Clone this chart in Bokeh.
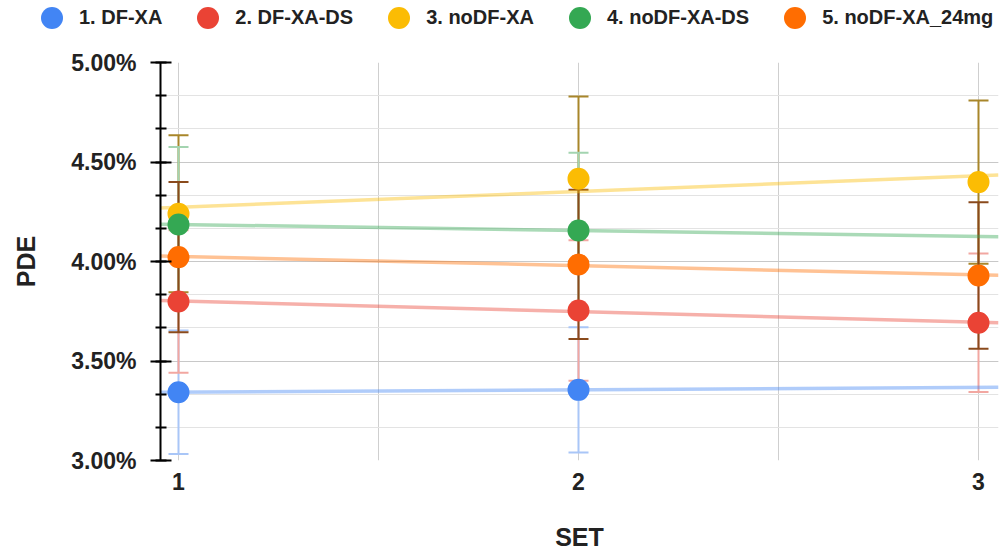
import numpy as np
from bokeh.plotting import figure
from bokeh.layouts import column
from bokeh.models import (ColumnDataSource, FixedTicker, PrintfTickFormatter, Whisker,
                          TeeHead, Legend, LegendItem, Range1d)
from bokeh.embed import file_html
from bokeh.resources import INLINE

# ---- data ----
sets = [1, 2, 3]
names = ["1. DF-XA", "2. DF-XA-DS", "3. noDF-XA", "4. noDF-XA-DS", "5. noDF-XA_24mg"]
pde_1 = [3.343, 3.355, None]
pde_2 = [3.799, 3.754, 3.692]
pde_3 = [4.240, 4.416, 4.399]
pde_4 = [4.186, 4.156, None]
pde_5 = [4.022, 3.985, 3.930]
err_1 = [0.310, 0.315, None]
err_2 = [0.358, 0.353, 0.348]
err_3 = [0.395, 0.413, 0.410]
err_4 = [0.389, 0.390, None]
err_5 = [0.377, 0.375, 0.368]
y_ticks = [3.0, 3.5, 4.0, 4.5, 5.0]
x_ticks = [1, 2, 3]

series_vals = [pde_1, pde_2, pde_3, pde_4, pde_5]
series_errs = [err_1, err_2, err_3, err_4, err_5]

# ---- styles ----
colors = ["#4285F4", "#EA4335", "#FBBC04", "#34A853", "#FF6D01"]
err_colors = ["#a9c6f7", "#f2a7a1", "#a8862a", "#a3d4b0", "#8a4a1c"]
FONT = "Liberation Sans"
X0, X1 = 0.955, 3.05
W = 1003
LEG_H = 40


def present(vals, other=None):
    xs = [x for x, v in zip(sets, vals) if v is not None]
    ys = [v for v in vals if v is not None]
    if other is None:
        return xs, ys
    return xs, ys, [e for e in other if e is not None]


# ---- legend strip (its series copies sit outside its visible range) ----
leg = figure(width=W, height=LEG_H, output_backend="svg", toolbar_location=None,
             x_range=Range1d(10, 11), y_range=Range1d(10, 11),
             x_axis_type=None, y_axis_type=None,
             min_border_left=0, min_border_right=0, min_border_top=0, min_border_bottom=0)
leg.outline_line_color = None
leg.xgrid.visible = False
leg.ygrid.visible = False
leg.frame_align = False
items = []
for vals, c, n in zip(series_vals, colors, names):
    xs, ys = present(vals)
    r = leg.scatter(xs, ys, size=22, fill_color=c, line_color=c, line_width=0)
    items.append(LegendItem(label=n, renderers=[r]))
legend = Legend(items=items, orientation="horizontal", location=(24, -5),
                glyph_width=55, glyph_height=55, label_standoff=-2, spacing=18,
                padding=0, margin=0, border_line_color=None, background_fill_alpha=0,
                label_text_font=FONT, label_text_font_style="bold",
                label_text_font_size="20px", label_text_color="#222222")
leg.add_layout(legend, "center")

# ---- main chart ----
p = figure(width=W, height=555 - LEG_H, output_backend="svg", toolbar_location=None,
           x_range=Range1d(X0, X1), y_range=Range1d(3.0, 5.0),
           min_border_left=160, min_border_right=5, min_border_top=62 - LEG_H,
           min_border_bottom=95)
p.outline_line_color = None
p.background_fill_color = "white"
p.frame_align = False

# trendlines (least-squares fit of each series)
for vals, c in zip(series_vals, colors):
    xs, ys = present(vals)
    m, b = np.polyfit(xs, ys, 1)
    p.line([X0, X1], [m * X0 + b, m * X1 + b], line_color=c, line_width=3.5, line_alpha=0.42)

# error bars
for vals, errs, ec in zip(series_vals, series_errs, err_colors):
    xs, ys, es = present(vals, errs)
    src = ColumnDataSource(dict(x=xs, upper=[y + e for y, e in zip(ys, es)],
                                lower=[y - e for y, e in zip(ys, es)]))
    w = Whisker(base="x", upper="upper", lower="lower", source=src,
                line_color=ec, line_width=2,
                upper_head=TeeHead(size=20, line_color=ec, line_width=2),
                lower_head=TeeHead(size=20, line_color=ec, line_width=2))
    p.add_layout(w)

# points
for vals, c in zip(series_vals, colors):
    xs, ys = present(vals)
    p.scatter(xs, ys, size=22, fill_color=c, line_color=c, line_width=0)

# axes
p.yaxis.ticker = FixedTicker(ticks=y_ticks,
                             minor_ticks=[3.0 + k / 6 for k in range(13)])
p.yaxis.formatter = PrintfTickFormatter(format="%.2f%%")
p.yaxis.axis_label = "PDE"
p.yaxis.axis_line_color = "black"
p.yaxis.axis_line_width = 2
p.yaxis.major_tick_line_color = "black"
p.yaxis.major_tick_line_width = 2
p.yaxis.major_tick_out = 10
p.yaxis.major_tick_in = 11
p.yaxis.minor_tick_line_color = "black"
p.yaxis.minor_tick_line_width = 2
p.yaxis.minor_tick_out = 5
p.yaxis.minor_tick_in = 6
p.yaxis.major_label_standoff = 14
p.yaxis.axis_label_standoff = 28

p.xaxis.ticker = FixedTicker(ticks=x_ticks, minor_ticks=[1.5, 2.5])
p.xaxis.axis_label = "SET"
p.xaxis.axis_line_color = None
p.xaxis.major_tick_line_color = None
p.xaxis.minor_tick_line_color = None
p.xaxis.major_tick_out = 0
p.xaxis.major_tick_in = 0
p.xaxis.major_label_standoff = 8
p.xaxis.axis_label_standoff = 30

for ax in (p.xaxis, p.yaxis):
    ax.major_label_text_font = FONT
    ax.major_label_text_font_style = "bold"
    ax.major_label_text_font_size = "23px"
    ax.major_label_text_color = "#222222"
    ax.axis_label_text_font = FONT
    ax.axis_label_text_font_style = "bold"
    ax.axis_label_text_font_size = "25px"
    ax.axis_label_text_color = "#222222"

p.ygrid.grid_line_color = "#c8c8c8"
p.ygrid.minor_grid_line_color = "#e3e3e3"
p.xgrid.grid_line_color = "#cfcfcf"
p.xgrid.minor_grid_line_color = "#cfcfcf"

layout = column(leg, p, spacing=0)
open("out.html", "w").write(file_html(layout, INLINE))
